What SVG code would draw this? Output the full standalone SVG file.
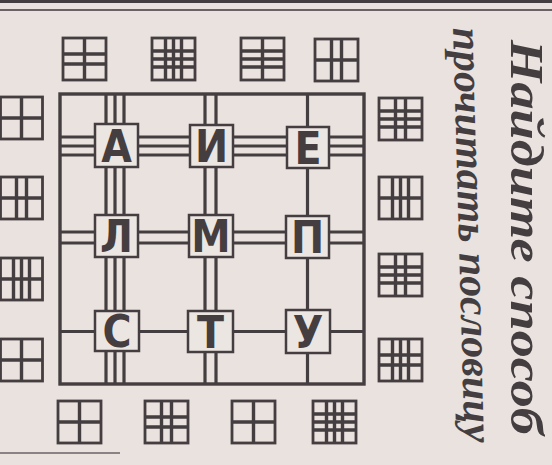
<svg xmlns="http://www.w3.org/2000/svg" width="552" height="465" viewBox="0 0 552 465">
<style>
.frame{stroke:#443e40;fill:none;stroke-width:3.4}
.cn{stroke:#443e40;fill:none;stroke-width:3.2}
.node rect{fill:#ece6e2;stroke:#443e40;stroke-width:2.5}
.node text{font-family:"DejaVu Sans Condensed","DejaVu Sans",sans-serif;font-stretch:condensed;font-weight:bold;font-size:44px;fill:#443e40;text-anchor:middle}
.key rect{fill:none;stroke:#443e40;stroke-width:2.8}
.key path{stroke:#443e40;fill:none;stroke-width:3.4}
.hand{font-family:"Liberation Serif",serif;font-style:italic;font-weight:bold;fill:#443e40}
</style>
<rect x="0" y="0" width="552" height="465" fill="#e9e2de"/>
<line x1="0" y1="1.5" x2="552" y2="1.5" stroke="#443e40" stroke-width="3"/>
<line x1="0" y1="10" x2="552" y2="10" stroke="#6a6264" stroke-width="2"/>
<line x1="0" y1="453" x2="120" y2="453" stroke="#8a8284" stroke-width="2"/>

<rect class="frame" x="60" y="94" width="304" height="290"/>

<g id="connectors">
  <path class="cn" d="M60 137H95M60 146H95M60 155H95"/>
  <path class="cn" d="M138 137H190M138 146H190M138 155H190"/>
  <path class="cn" d="M233 137H287M233 146H287M233 155H287"/>
  <path class="cn" d="M329 137H364M329 146H364M329 155H364"/>
  <path class="cn" d="M60 232H95M60 243H95"/>
  <path class="cn" d="M138 232H189M138 243H189"/>
  <path class="cn" d="M233 232H286M233 243H286"/>
  <path class="cn" d="M329 232H364M329 243H364"/>
  <path class="cn" d="M60 331.5H95"/>
  <path class="cn" d="M139 331.5H188"/>
  <path class="cn" d="M233 331.5H286"/>
  <path class="cn" d="M330 331.5H364"/>
  <path class="cn" d="M106 94V124M115 94V124M124 94V124"/>
  <path class="cn" d="M106 167V215M115 167V215M124 167V215"/>
  <path class="cn" d="M106 257V311M115 257V311M124 257V311"/>
  <path class="cn" d="M106 351V384M115 351V384M124 351V384"/>
  <path class="cn" d="M205 94V125M216 94V125"/>
  <path class="cn" d="M205 167V215M216 167V215"/>
  <path class="cn" d="M205 257V311M216 257V311"/>
  <path class="cn" d="M205 352V384M216 352V384"/>
  <path class="cn" d="M307.5 94V127"/>
  <path class="cn" d="M307.5 168V216"/>
  <path class="cn" d="M307.5 258V310"/>
  <path class="cn" d="M307.5 353V384"/>
</g>

<g id="node-A" class="node"><rect x="95" y="124" width="43" height="43"/><text x="116.5" y="161.5">А</text></g>
<g id="node-I" class="node"><rect x="190" y="125" width="43" height="42"/><text x="211.5" y="162">И</text></g>
<g id="node-E" class="node"><rect x="287" y="127" width="42" height="41"/><text x="308" y="163.5">Е</text></g>
<g id="node-L" class="node"><rect x="95" y="215" width="43" height="42"/><text x="116.5" y="252">Л</text></g>
<g id="node-M" class="node"><rect x="189" y="215" width="44" height="42"/><text x="211" y="252">М</text></g>
<g id="node-P" class="node"><rect x="286" y="216" width="43" height="42"/><text x="307.5" y="253">П</text></g>
<g id="node-S" class="node"><rect x="95" y="311" width="44" height="40"/><text x="117" y="347">С</text></g>
<g id="node-T" class="node"><rect x="188" y="311" width="45" height="41"/><text x="210.5" y="347.5">Т</text></g>
<g id="node-U" class="node"><rect x="286" y="310" width="44" height="43"/><text x="308" y="347.5">У</text></g>

<g id="key-top-1" class="key"><rect x="63" y="38" width="43" height="42"/><path d="M63 54H106M63 64H106M84.5 38V80"/></g>
<g id="key-top-2" class="key"><rect x="152" y="38" width="43" height="42"/><path d="M152 51H195M152 59H195M152 67H195M165.5 38V80M173.5 38V80M181.5 38V80"/></g>
<g id="key-top-3" class="key"><rect x="241" y="38" width="43" height="42"/><path d="M241 51H284M241 59H284M241 67H284M262.5 38V80"/></g>
<g id="key-top-4" class="key"><rect x="315" y="39" width="43" height="42"/><path d="M315 60H358M331.5 39V81M341.5 39V81"/></g>

<g id="key-right-1" class="key"><rect x="379" y="98" width="43" height="42"/><path d="M379 111H422M379 119H422M379 127H422M395.5 98V140M405.5 98V140"/></g>
<g id="key-right-2" class="key"><rect x="379" y="177" width="43" height="42"/><path d="M379 198H422M392.5 177V219M400.5 177V219M408.5 177V219"/></g>
<g id="key-right-3" class="key"><rect x="379" y="254" width="43" height="42"/><path d="M379 267H422M379 275H422M379 283H422M395.5 254V296M405.5 254V296"/></g>
<g id="key-right-4" class="key"><rect x="379" y="339" width="43" height="42"/><path d="M379 355H422M379 365H422M392.5 339V381M400.5 339V381M408.5 339V381"/></g>

<g id="key-bottom-1" class="key"><rect x="58" y="401" width="43" height="42"/><path d="M58 422H101M79.5 401V443"/></g>
<g id="key-bottom-2" class="key"><rect x="145" y="401" width="43" height="42"/><path d="M145 417H188M145 427H188M161.5 401V443M171.5 401V443"/></g>
<g id="key-bottom-3" class="key"><rect x="232" y="401" width="43" height="42"/><path d="M232 422H275M253.5 401V443"/></g>
<g id="key-bottom-4" class="key"><rect x="313" y="401" width="43" height="42"/><path d="M313 414H356M313 422H356M313 430H356M326.5 401V443M334.5 401V443M342.5 401V443"/></g>

<g id="key-left-1" class="key"><rect x="0.5" y="97" width="42" height="42"/><path d="M0 118H42.5M21.5 97V139"/></g>
<g id="key-left-2" class="key"><rect x="0.5" y="177" width="42" height="42"/><path d="M0 198H42.5M16.5 177V219M26.5 177V219"/></g>
<g id="key-left-3" class="key"><rect x="0.5" y="258" width="42" height="42"/><path d="M0 279H42.5M13.5 258V300M21.5 258V300M29.5 258V300"/></g>
<g id="key-left-4" class="key"><rect x="0.5" y="339" width="42" height="42"/><path d="M0 360H42.5M21.5 339V381"/></g>

<text class="hand" font-size="46" transform="translate(511,40) rotate(90)" textLength="395" lengthAdjust="spacingAndGlyphs">Найдите способ</text>
<text class="hand" font-size="42" transform="translate(453,28) rotate(88.4)" textLength="415" lengthAdjust="spacingAndGlyphs">прочитать пословицу</text>
</svg>
